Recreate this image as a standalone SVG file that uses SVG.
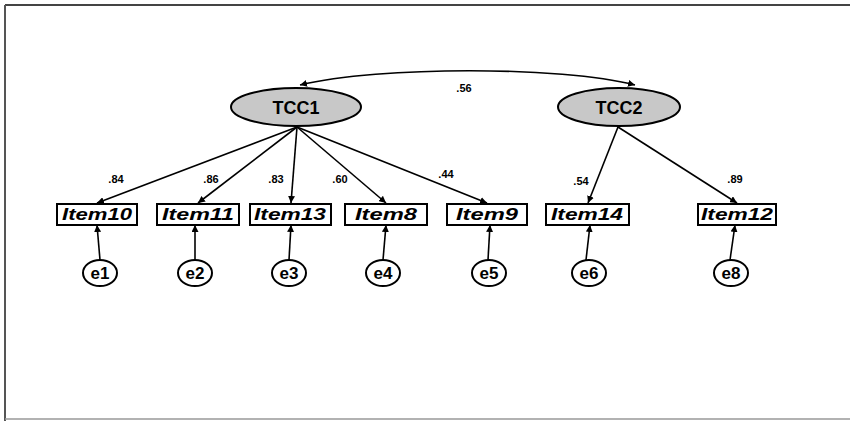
<svg xmlns="http://www.w3.org/2000/svg" width="850" height="421" viewBox="0 0 850 421">
<style>
.lat{fill:#c8c8c8;stroke:#000;stroke-width:2}
.obs{fill:#fff;stroke:#000;stroke-width:2}
.err{fill:#fff;stroke:#000;stroke-width:2}
.lt{font-family:"Liberation Sans",Arial,sans-serif;font-weight:bold;font-size:18px;text-anchor:middle}
.it{font-family:"Liberation Sans",Arial,sans-serif;font-weight:bold;font-style:italic;font-size:16px;text-anchor:middle}
.et{font-family:"Liberation Sans",Arial,sans-serif;font-weight:bold;font-size:17px;text-anchor:middle}
.pl{font-family:"Liberation Sans",Arial,sans-serif;font-weight:bold;font-size:11px;text-anchor:middle}
.c{fill:none;stroke:#000;stroke-width:1.6;marker-end:url(#ah)}
</style>
<defs>
<marker id="ah" viewBox="0 0 10 10" refX="10" refY="5" markerWidth="7" markerHeight="7" markerUnits="userSpaceOnUse" orient="auto-start-reverse">
<path d="M0,0 L10,5 L0,10 z" fill="#000"/>
</marker>
</defs>
<rect width="850" height="421" fill="#fff"/>
<g id="frame">
<line x1="5" y1="5" x2="850" y2="5" stroke="#444" stroke-width="2"/>
<line x1="5" y1="5" x2="5" y2="421" stroke="#555" stroke-width="2"/>
<line x1="5" y1="419" x2="850" y2="419" stroke="#999" stroke-width="1.5"/>
</g>
<g id="connectors">
<path class="c" d="M300,85 C380,66 560,66 635,85" style="marker-start:url(#ah)"/>
<line class="c" x1="297" y1="127" x2="97" y2="203"/>
<line class="c" x1="297" y1="127" x2="198" y2="203"/>
<line class="c" x1="297" y1="127" x2="291" y2="203"/>
<line class="c" x1="297" y1="127" x2="386" y2="203"/>
<line class="c" x1="297" y1="127" x2="487" y2="203"/>
<line class="c" x1="618" y1="127" x2="588" y2="203"/>
<line class="c" x1="618" y1="127" x2="737" y2="203"/>
<line class="c" x1="100" y1="260" x2="97" y2="225"/>
<line class="c" x1="195" y1="260" x2="195" y2="225"/>
<line class="c" x1="289" y1="260" x2="291" y2="225"/>
<line class="c" x1="383" y1="260" x2="386" y2="225"/>
<line class="c" x1="488" y1="260" x2="490" y2="225"/>
<line class="c" x1="586" y1="260" x2="590" y2="225"/>
<line class="c" x1="730" y1="260" x2="735" y2="225"/>
</g>
<g id="labels">
<text class="pl" x="464" y="92">.56</text>
<text class="pl" x="116" y="183">.84</text>
<text class="pl" x="211" y="183">.86</text>
<text class="pl" x="276" y="183">.83</text>
<text class="pl" x="340" y="183">.60</text>
<text class="pl" x="446" y="178">.44</text>
<text class="pl" x="581" y="185">.54</text>
<text class="pl" x="735" y="183">.89</text>
</g>
<g id="TCC1"><ellipse class="lat" cx="296" cy="107" rx="65" ry="19"/><text class="lt" x="296" y="114">TCC1</text></g>
<g id="TCC2"><ellipse class="lat" cx="619" cy="107" rx="61" ry="19"/><text class="lt" x="619" y="114">TCC2</text></g>
<g id="Item10"><rect class="obs" x="57" y="204" width="80" height="21"/><text class="it" x="97" y="220" textLength="70" lengthAdjust="spacingAndGlyphs">Item10</text></g>
<g id="Item11"><rect class="obs" x="157" y="204" width="82" height="21"/><text class="it" x="198" y="220" textLength="72" lengthAdjust="spacingAndGlyphs">Item11</text></g>
<g id="Item13"><rect class="obs" x="250" y="204" width="81" height="21"/><text class="it" x="290" y="220" textLength="72" lengthAdjust="spacingAndGlyphs">Item13</text></g>
<g id="Item8"><rect class="obs" x="345" y="204" width="82" height="21"/><text class="it" x="386" y="220" textLength="62" lengthAdjust="spacingAndGlyphs">Item8</text></g>
<g id="Item9"><rect class="obs" x="447" y="204" width="80" height="21"/><text class="it" x="487" y="220" textLength="62" lengthAdjust="spacingAndGlyphs">Item9</text></g>
<g id="Item14"><rect class="obs" x="546" y="204" width="83" height="21"/><text class="it" x="587" y="220" textLength="72" lengthAdjust="spacingAndGlyphs">Item14</text></g>
<g id="Item12"><rect class="obs" x="698" y="204" width="78" height="21"/><text class="it" x="737" y="220" textLength="72" lengthAdjust="spacingAndGlyphs">Item12</text></g>
<g id="e1"><ellipse class="err" cx="100" cy="273" rx="17" ry="13"/><text class="et" x="100" y="279">e1</text></g>
<g id="e2"><ellipse class="err" cx="195" cy="273" rx="17" ry="13"/><text class="et" x="195" y="279">e2</text></g>
<g id="e3"><ellipse class="err" cx="289" cy="273" rx="17" ry="13"/><text class="et" x="289" y="279">e3</text></g>
<g id="e4"><ellipse class="err" cx="383" cy="273" rx="17" ry="13"/><text class="et" x="383" y="279">e4</text></g>
<g id="e5"><ellipse class="err" cx="489" cy="273" rx="17" ry="13"/><text class="et" x="489" y="279">e5</text></g>
<g id="e6"><ellipse class="err" cx="589" cy="273" rx="17" ry="13"/><text class="et" x="589" y="279">e6</text></g>
<g id="e8"><ellipse class="err" cx="731" cy="273" rx="17" ry="13"/><text class="et" x="731" y="279">e8</text></g>
</svg>
